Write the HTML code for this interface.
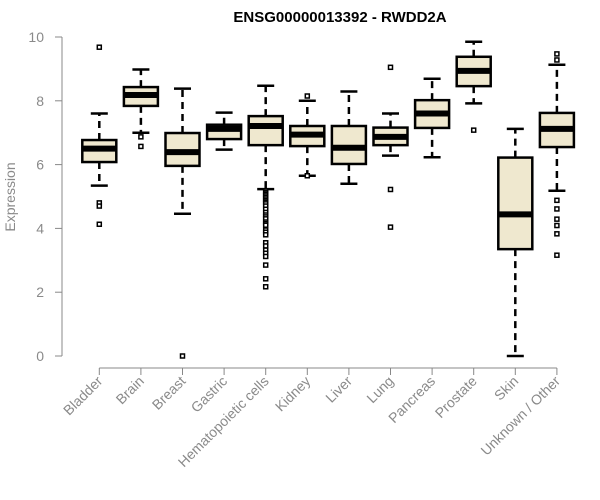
<!DOCTYPE html>
<html><head><meta charset="utf-8"><style>
body{margin:0;background:#fff;}
svg{display:block;font-family:"Liberation Sans",Arial,sans-serif;}
</style></head><body>
<svg id="chart" width="600" height="500">
<text x="340" y="22" text-anchor="middle" font-weight="bold" font-size="15" fill="#000">ENSG00000013392 - RWDD2A</text>
<text transform="translate(15,197) rotate(-90)" text-anchor="middle" font-size="14" fill="#8a8a8a">Expression</text>
</svg>
<script>
const categories=["Bladder","Brain","Breast","Gastric","Hematopoietic cells","Kidney","Liver","Lung","Pancreas","Prostate","Skin","Unknown / Other"];
const q1=[6.08,7.84,5.96,6.8,6.61,6.58,6.02,6.61,7.15,8.46,3.35,6.55];
const medians=[6.5,8.18,6.39,7.12,7.21,6.94,6.53,6.87,7.6,8.94,4.44,7.12];
const q3=[6.77,8.43,6.99,7.25,7.52,7.21,7.21,7.16,8.02,9.38,6.22,7.62];
const whiskerLow=[5.34,7.0,4.46,6.47,5.23,5.65,5.4,6.28,6.23,7.92,0,5.18];
const whiskerHigh=[7.6,8.98,8.38,7.63,8.47,8.0,8.29,7.6,8.69,9.85,7.12,9.13];
const outliers=[[9.68,4.8,4.7,4.13],[6.87,6.57],[0],[],
[5.17,5.12,5.07,5.02,4.97,4.92,4.87,4.82,4.77,4.7,4.6,4.5,4.42,4.36,4.3,4.2,4.15,4.1,3.95,3.88,3.8,3.55,3.45,3.32,3.22,3.12,2.85,2.42,2.17],
[8.15,5.65],[],[9.05,5.22,4.04],[],[7.08],[],[9.47,9.28,4.88,4.61,4.29,4.09,3.83,3.16]];
const yTicks=[0,2,4,6,8,10];
const NS="http://www.w3.org/2000/svg";
const svg=document.getElementById('chart');
const y=v=>356-31.9*v;
const x=i=>99.3+41.6*i;
const BW=34;
function mk(t,a){const e=document.createElementNS(NS,t);for(const k in a)e.setAttribute(k,a[k]);svg.appendChild(e);return e;}
// y axis
let ax=mk('line',{x1:62,x2:62,y1:y(10),y2:y(0),stroke:'#888','stroke-width':1});


yTicks.forEach(t=>{
 let l=mk('line',{x1:55,x2:62,y1:y(t),y2:y(t),stroke:'#888'});
 
 
 let tx=mk('text',{x:44,y:y(t)+5,'text-anchor':'end','font-size':14,fill:'#8a8a8a'});
 tx.textContent=t;
 
 
});
let xa=mk('line',{x1:x(0),x2:x(11),y1:368,y2:368,stroke:'#888'});


categories.forEach((c,i)=>{
 const cx=x(i);
 let t=mk('line',{x1:cx,x2:cx,y1:368,y2:375,stroke:'#888'});
 
 
 let lb=mk('text',{transform:`translate(${cx+4},${382}) rotate(-45)`,'text-anchor':'end','font-size':14,fill:'#8a8a8a'});
 lb.textContent=c;
 
 
 const g=document.createElementNS(NS,'g');svg.appendChild(g);
 
 
 const add=(tag,a)=>{const e=document.createElementNS(NS,tag);for(const k in a)e.setAttribute(k,a[k]);g.appendChild(e);return e;};
 add('line',{x1:cx,x2:cx,y1:y(q3[i]),y2:y(whiskerHigh[i]),stroke:'#000','stroke-width':2.5,'stroke-dasharray':'7,5'});
 add('line',{x1:cx,x2:cx,y1:y(q1[i]),y2:y(whiskerLow[i]),stroke:'#000','stroke-width':2.5,'stroke-dasharray':'7,5'});
 add('line',{x1:cx-8.5,x2:cx+8.5,y1:y(whiskerHigh[i]),y2:y(whiskerHigh[i]),stroke:'#000','stroke-width':2.5});
 add('line',{x1:cx-8.5,x2:cx+8.5,y1:y(whiskerLow[i]),y2:y(whiskerLow[i]),stroke:'#000','stroke-width':2.5});
 add('rect',{x:cx-BW/2,y:y(q3[i]),width:BW,height:y(q1[i])-y(q3[i]),fill:'#efe8cf',stroke:'#000','stroke-width':2.5});
 add('line',{x1:cx-BW/2,x2:cx+BW/2,y1:y(medians[i]),y2:y(medians[i]),stroke:'#000','stroke-width':6});
 outliers[i].forEach(v=>{add('rect',{x:cx-2,y:y(v)-2,width:4,height:4,fill:'#fff',stroke:'#000','stroke-width':1.5});});
});
</script>
</body></html>
